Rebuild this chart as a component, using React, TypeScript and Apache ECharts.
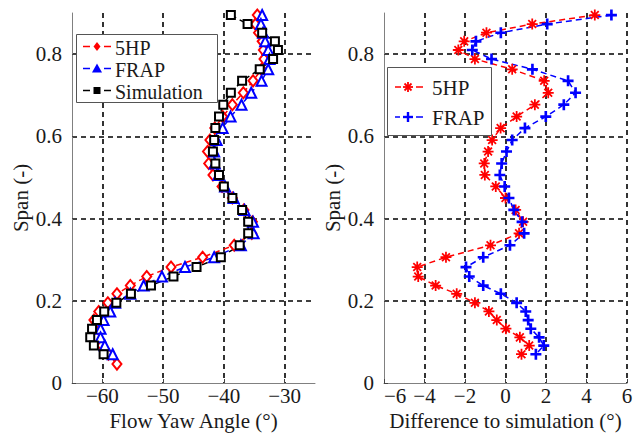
import React, { useEffect, useRef } from "react";
import * as echarts from "echarts";

// Span positions (shared by all series), top to bottom
const spans = [0.895, 0.873, 0.852, 0.831, 0.81, 0.788, 0.763, 0.735, 0.706, 0.677, 0.648, 0.62, 0.591, 0.563, 0.534, 0.506, 0.478, 0.45, 0.421, 0.392, 0.364, 0.335, 0.306, 0.282, 0.259, 0.237, 0.217, 0.195, 0.174, 0.153, 0.132, 0.111, 0.091, 0.07];
const extra5hpSpan = [0.046];

// Left panel: flow yaw angle (deg)
const yaw5HP = [-34.5, -34.8, -34.3, -33.7, -33.5, -33.4, -33.8, -35.2, -36.8, -38.6, -40.2, -41.5, -42.3, -42.7, -42.5, -41.8, -40.3, -38.6, -36.7, -35.3, -35.4, -38.3, -43.5, -48.7, -52.7, -55.4, -57.6, -59.1, -60.6, -61.4, -61.3, -61.0, -60.1, -59.0, -57.6];
const yawFRAP = [-33.7, -33.9, -33.55, -33.2, -32.7, -32.5, -32.7, -33.8, -35.5, -37.1, -38.9, -40.2, -41.2, -41.6, -41.5, -40.9, -39.8, -38.4, -36.6, -35.2, -35.1, -37.2, -41.6, -46.4, -50.2, -53.2, -55.4, -57.9, -58.7, -59.8, -60.3, -60.3, -59.6, -58.3];
const yawSim = [-38.85, -36.1, -33.7, -31.6, -31.1, -31.9, -34.1, -37.0, -38.85, -40.1, -40.8, -41.4, -41.6, -41.8, -41.4, -40.8, -40.0, -38.6, -37.0, -36.0, -36.0, -37.4, -40.5, -44.5, -48.3, -52.0, -55.3, -57.7, -59.7, -60.9, -61.7, -62.0, -61.4, -59.8];

// Right panel: difference to simulation (deg)
const diff5HP = [4.41, 1.32, -0.94, -2.04, -2.33, -1.51, 0.33, 1.91, 2.11, 1.45, 0.55, -0.24, -0.66, -0.86, -1.05, -1.02, -0.48, 0.0, 0.5, 0.87, 0.67, -0.74, -2.94, -4.36, -4.31, -3.45, -2.41, -1.51, -0.82, -0.43, 0.02, 0.71, 1.17, 0.79];
const diffFRAP = [5.23, 2.06, -0.23, -1.46, -1.64, -0.69, 1.33, 3.09, 3.46, 2.88, 1.99, 0.96, 0.33, 0.05, -0.19, -0.28, -0.04, 0.17, 0.41, 0.82, 0.92, 0.22, -1.1, -1.95, -1.79, -1.1, -0.23, 0.55, 1.0, 1.12, 1.25, 1.66, 1.89, 1.5];

const yTicks = { min: 0, max: 0.9, interval: 0.2 };
const leftX = { min: -65, max: -25, step: 10 };
const rightX = { min: -6, max: 6, interval: 2 };

const FONT = "Liberation Serif";
const TXT = "#1a1a1a";
const RED = "#ff0000";
const BLUE = "#0000ff";

const ASTERISK =
  "path://M0,4.2L10,4.2L10,5.8L0,5.8Z M4.2,0L5.8,0L5.8,10L4.2,10Z M0.89,2.03L2.03,0.89L9.11,7.97L7.97,9.11Z M9.11,2.03L2.03,9.11L0.89,7.97L7.97,0.89Z";
const PLUS = "path://M3.8,0L6.2,0L6.2,3.8L10,3.8L10,6.2L6.2,6.2L6.2,10L3.8,10L3.8,6.2L0,6.2L0,3.8L3.8,3.8Z";

const minus = (v: number) => (v < 0 ? "\u2212" + String(-v) : String(v));

function pairs(xs: number[], ys: number[]) {
  return xs.map((x, i) => [x, ys[i]]);
}

function legendEntry(
  y: number,
  color: string,
  marker: any[],
  label: string,
  seg: [number, number, number, number],
  textX: number,
  fontSize: number
) {
  return [
    { type: "line", z: 101, shape: { x1: seg[0], y1: y, x2: seg[1], y2: y }, style: { stroke: color, lineWidth: 1.5 } },
    { type: "line", z: 101, shape: { x1: seg[2], y1: y, x2: seg[3], y2: y }, style: { stroke: color, lineWidth: 1.5 } },
    ...marker,
    {
      type: "text",
      z: 101,
      x: textX,
      y: y + 1,
      style: { text: label, fontFamily: FONT, fontSize, fill: TXT, verticalAlign: "middle", align: "left" },
    },
  ];
}

export default function App() {
  const ref = useRef<HTMLDivElement>(null);
  useEffect(() => {
    if (!ref.current) return;
    const chart = echarts.init(ref.current, undefined, { renderer: "svg" });

    const axisLabel = { fontFamily: FONT, fontSize: 21, color: TXT };
    const splitLine = { show: true, showMinLine: false, lineStyle: { color: "#000", type: [5, 4], width: 1.6 } };
    const axisLine = { show: true, onZero: false, lineStyle: { color: "#808080", width: 1 } };
    const axisTick = { show: true, inside: true, length: 4, lineStyle: { color: "#444" } };

    const yAxisBase = (gridIndex: number, gap: number) => ({
      type: "value",
      gridIndex,
      min: yTicks.min,
      max: yTicks.max,
      interval: yTicks.interval,
      name: "Span (-)",
      nameLocation: "middle",
      nameGap: gap,
      nameTextStyle: { fontFamily: FONT, fontSize: 21, color: TXT },
      axisLine,
      axisTick,
      axisLabel: { ...axisLabel, margin: 10, showMaxLabel: false, formatter: (v: number) => String(Math.round(v * 10) / 10) },
      splitLine: { ...splitLine, showMaxLine: false },
    });

    const mx = 97;
    const L = [46.5, 68.5, 90.5];
    const R = [87, 117];
    const lf = 20;

    const graphic: any[] = [
      { type: "rect", z: 100, shape: { x: 76.5, y: 34.5, width: 141, height: 68 }, style: { fill: "#fff", stroke: "#555", lineWidth: 1 } },
      ...legendEntry(L[0], RED, [
        { type: "polygon", z: 101, shape: { points: [[mx, L[0] - 4.5], [mx + 3.5, L[0]], [mx, L[0] + 4.5], [mx - 3.5, L[0]]] }, style: { fill: RED } },
      ], "5HP", [83, 90, 104, 111], 115, lf),
      ...legendEntry(L[1], BLUE, [
        { type: "polygon", z: 101, shape: { points: [[mx, L[1] - 5], [mx + 5, L[1] + 4], [mx - 5, L[1] + 4]] }, style: { fill: BLUE } },
      ], "FRAP", [83, 90, 104, 111], 115, lf),
      ...legendEntry(L[2], "#000", [
        { type: "rect", z: 101, shape: { x: mx - 3.5, y: L[2] - 3.5, width: 7, height: 7 }, style: { fill: "#000" } },
      ], "Simulation", [83, 90, 104, 111], 115, lf),

      { type: "rect", z: 100, shape: { x: 387.5, y: 67.5, width: 104, height: 68 }, style: { fill: "#fff", stroke: "#555", lineWidth: 1 } },
      ...legendEntry(R[0], RED, [
        { type: "line", z: 101, shape: { x1: 403, y1: R[0], x2: 413, y2: R[0] }, style: { stroke: RED, lineWidth: 1.8 } },
        { type: "line", z: 101, shape: { x1: 408, y1: R[0] - 5, x2: 408, y2: R[0] + 5 }, style: { stroke: RED, lineWidth: 1.8 } },
        { type: "line", z: 101, shape: { x1: 404.5, y1: R[0] - 3.5, x2: 411.5, y2: R[0] + 3.5 }, style: { stroke: RED, lineWidth: 1.8 } },
        { type: "line", z: 101, shape: { x1: 411.5, y1: R[0] - 3.5, x2: 404.5, y2: R[0] + 3.5 }, style: { stroke: RED, lineWidth: 1.8 } },
      ], "5HP", [395, 401, 416, 423], 432, 21),
      ...legendEntry(R[1], BLUE, [
        { type: "line", z: 101, shape: { x1: 403, y1: R[1], x2: 413, y2: R[1] }, style: { stroke: BLUE, lineWidth: 2.4 } },
        { type: "line", z: 101, shape: { x1: 408, y1: R[1] - 5, x2: 408, y2: R[1] + 5 }, style: { stroke: BLUE, lineWidth: 2.4 } },
      ], "FRAP", [395, 400, 416, 423], 432, 21),
    ];

    const lineStyle = (c: string) => ({ color: c, width: 1.5, type: [6, 4] });

    chart.setOption({
      animation: false,
      backgroundColor: "#fff",
      textStyle: { fontFamily: FONT },
      grid: [
        { left: 72, top: 13, width: 243, height: 370, outerBoundsMode: "none" },
        { left: 384, top: 13, width: 243, height: 370, outerBoundsMode: "none" },
      ],
      xAxis: [
        {
          type: "value",
          gridIndex: 0,
          min: leftX.min,
          max: leftX.max,
          splitNumber: 4,
          minInterval: leftX.step,
          maxInterval: leftX.step,
          name: "Flow Yaw Angle (°)",
          nameLocation: "middle",
          nameGap: 23,
          nameTextStyle: { fontFamily: FONT, fontSize: 21, color: TXT },
          axisLine,
          axisTick,
          axisLabel: {
            ...axisLabel,
            margin: 2,
            showMinLabel: false,
            showMaxLabel: false,
            formatter: (v: number) => (Math.abs(v % leftX.step) < 1e-9 ? minus(v) : ""),
          },
          splitLine: { ...splitLine, showMaxLine: false },
        },
        {
          type: "value",
          gridIndex: 1,
          min: rightX.min,
          max: rightX.max,
          interval: rightX.interval,
          name: "Difference to simulation (°)",
          nameLocation: "middle",
          nameGap: 23,
          nameTextStyle: { fontFamily: FONT, fontSize: 21, color: TXT },
          axisLine,
          axisTick,
          axisLabel: { ...axisLabel, margin: 2, alignMinLabel: "left", formatter: (v: number) => minus(v) },
          splitLine: { ...splitLine, showMaxLine: true },
        },
      ],
      yAxis: [yAxisBase(0, 38), yAxisBase(1, 30)],
      series: [
        {
          name: "5HP",
          type: "line",
          xAxisIndex: 0,
          yAxisIndex: 0,
          data: pairs(yaw5HP, spans.concat(extra5hpSpan)),
          symbol: "emptyDiamond",
          symbolSize: [9, 11],
          color: RED,
          itemStyle: { color: RED, borderColor: RED, borderWidth: 1.6 },
          lineStyle: lineStyle(RED),
        },
        {
          name: "FRAP",
          type: "line",
          xAxisIndex: 0,
          yAxisIndex: 0,
          data: pairs(yawFRAP, spans),
          symbol: "emptyTriangle",
          symbolSize: 10,
          color: BLUE,
          itemStyle: { color: BLUE, borderColor: BLUE, borderWidth: 1.8 },
          lineStyle: lineStyle(BLUE),
        },
        {
          name: "Simulation",
          type: "line",
          xAxisIndex: 0,
          yAxisIndex: 0,
          data: pairs(yawSim, spans),
          symbol: "emptyRect",
          symbolSize: 8,
          color: "#000",
          itemStyle: { color: "#000", borderColor: "#000", borderWidth: 2 },
          lineStyle: lineStyle("#000"),
        },
        {
          name: "5HP",
          type: "line",
          xAxisIndex: 1,
          yAxisIndex: 1,
          data: pairs(diff5HP, spans),
          symbol: ASTERISK,
          symbolSize: 11,
          color: RED,
          itemStyle: { color: RED },
          lineStyle: lineStyle(RED),
        },
        {
          name: "FRAP",
          type: "line",
          xAxisIndex: 1,
          yAxisIndex: 1,
          data: pairs(diffFRAP, spans),
          symbol: PLUS,
          symbolSize: 11,
          color: BLUE,
          itemStyle: { color: BLUE },
          lineStyle: lineStyle(BLUE),
        },
      ],
      graphic,
    });
    return () => chart.dispose();
  }, []);
  return <div ref={ref} style={{ position: "fixed", left: 0, top: 0, width: 636, height: 435 }} />;
}
